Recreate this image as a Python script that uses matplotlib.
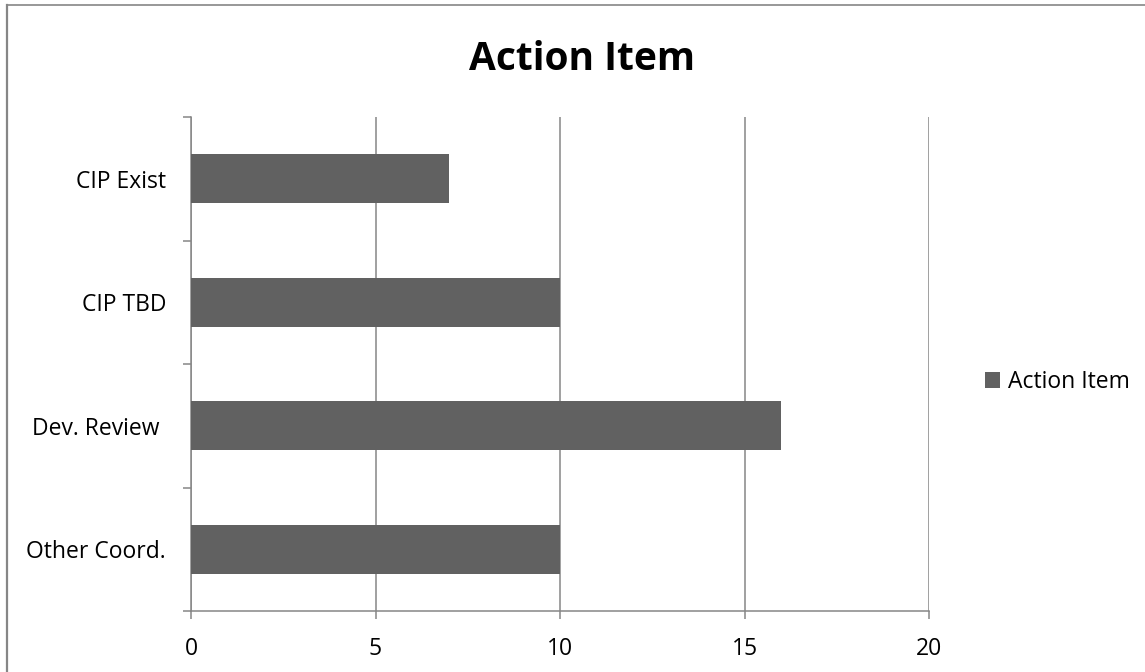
import matplotlib
matplotlib.use("Agg")
import matplotlib.pyplot as plt
from matplotlib.lines import Line2D

# categories from bottom to top
categories = ["Other Coord.", "Dev. Review ", "CIP TBD", "CIP Exist"]
values = [10, 16, 10, 7]
xticks = [0, 5, 10, 15, 20]
series_name = "Action Item"

grey = "#868686"
bar_color = "#616161"

plt.rcParams["font.family"] = ["Open Sans", "DejaVu Sans"]

fig = plt.figure(figsize=(11.45, 6.72), dpi=100)
ax = fig.add_axes([191 / 1145, 1 - 611 / 672, 738 / 1145, 494 / 672])

pos = list(range(len(categories)))
ax.barh(pos, values, height=0.397, color=bar_color, label=series_name, zorder=3)

ax.set_xlim(0, 20)
ax.set_ylim(-0.5, len(categories) - 0.5)
ax.set_xticks(xticks)
ax.set_xticklabels([str(t) for t in xticks], fontsize=16.5)
ax.set_yticks(pos)
ax.set_yticklabels(categories, fontsize=16.5)
ax.set_yticks([p - 0.5 for p in pos] + [len(categories) - 0.5], minor=True)

# vertical gridlines
ax.grid(axis="x", color=grey, linewidth=1.1, zorder=0)

for s in ["top", "right"]:
    ax.spines[s].set_visible(False)
for s in ["left", "bottom"]:
    ax.spines[s].set_color(grey)
    ax.spines[s].set_linewidth(1.1)

ax.tick_params(axis="x", which="major", length=5.5, width=1.1, color=grey, pad=13)
ax.tick_params(axis="y", which="major", length=0, pad=18)
ax.tick_params(axis="y", which="minor", length=6, width=1.1, color=grey)

fig.suptitle("Action Item", fontsize=28, fontweight="bold", x=0.508, y=0.941)

fig.legend(loc="center left", bbox_to_anchor=(985 / 1145, 1 - 382 / 672),
           frameon=False, fontsize=16.5, borderpad=0, borderaxespad=0,
           handlelength=0.65, handleheight=0.65, handletextpad=0.35)

# chart frame along the left and top edges
fig.add_artist(Line2D([6.5 / 1145, 6.5 / 1145], [0, 1 - 5 / 672], color=grey, linewidth=1.6))
fig.add_artist(Line2D([6.5 / 1145, 1], [1 - 5 / 672, 1 - 5 / 672], color=grey, linewidth=1.2))

fig.savefig("out.png", dpi=100)
